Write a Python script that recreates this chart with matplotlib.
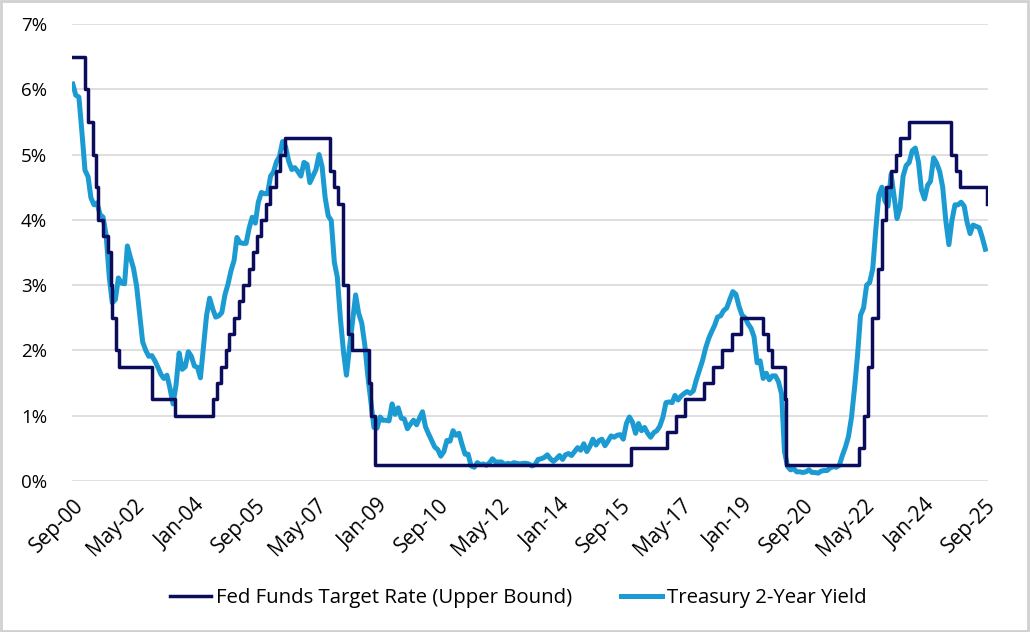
# Fed Funds target rate vs. 2-year Treasury yield, Sep 2000 - Sep 2025

import numpy as np
import pandas as pd
import matplotlib
matplotlib.use("Agg")
import matplotlib.pyplot as plt
import matplotlib.dates as mdates
from matplotlib.ticker import FuncFormatter, MultipleLocator

plt.rcParams['font.family'] = ['Open Sans', 'DejaVu Sans']

# -----------------------------------------
# Data
# -----------------------------------------
# Fed Funds target rate (upper bound), change dates and new levels (%)
ff_dates = [
    "2000-09-01", "2001-01-03", "2001-01-31", "2001-03-20", "2001-04-18", "2001-05-15",
    "2001-06-27", "2001-08-21", "2001-09-17", "2001-10-02", "2001-11-06", "2001-12-11",
    "2002-11-06", "2003-06-25", "2004-06-30", "2004-08-10", "2004-09-21", "2004-11-10",
    "2004-12-14", "2005-02-02", "2005-03-22", "2005-05-03", "2005-06-30", "2005-08-09",
    "2005-09-20", "2005-11-01", "2005-12-13", "2006-01-31", "2006-03-28", "2006-05-10",
    "2006-06-29", "2007-09-18", "2007-10-31", "2007-12-11", "2008-01-22", "2008-01-30",
    "2008-03-18", "2008-04-30", "2008-10-08", "2008-10-29", "2008-12-16", "2015-12-16",
    "2016-12-14", "2017-03-15", "2017-06-14", "2017-12-13", "2018-03-21", "2018-06-13",
    "2018-09-26", "2018-12-19", "2019-07-31", "2019-09-18", "2019-10-30", "2020-03-03",
    "2020-03-15", "2022-03-16", "2022-05-04", "2022-06-15", "2022-07-27", "2022-09-21",
    "2022-11-02", "2022-12-14", "2023-02-01", "2023-03-22", "2023-05-03", "2023-07-26",
    "2024-09-18", "2024-11-07", "2024-12-18", "2025-09-17", "2025-09-22",
]
ff_rates = [
    6.50, 6.00, 5.50, 5.00, 4.50, 4.00,
    3.75, 3.50, 3.00, 2.50, 2.00, 1.75,
    1.25, 1.00, 1.25, 1.50, 1.75, 2.00,
    2.25, 2.50, 2.75, 3.00, 3.25, 3.50,
    3.75, 4.00, 4.25, 4.50, 4.75, 5.00,
    5.25, 4.75, 4.50, 4.25, 3.50, 3.00,
    2.25, 2.00, 1.50, 1.00, 0.25, 0.50,
    0.75, 1.00, 1.25, 1.50, 1.75, 2.00,
    2.25, 2.50, 2.25, 2.00, 1.75, 1.25,
    0.25, 0.50, 1.00, 1.75, 2.50, 3.25,
    4.00, 4.50, 4.75, 5.00, 5.25, 5.50,
    5.00, 4.75, 4.50, 4.25, 4.25,
]

# Treasury 2-year yield, monthly (%), Sep 2000 onwards
t2_start = "2000-09-01"
t2_yield = [
    6.08, 5.91, 5.88, 5.35,                                                        # 2000
    4.76, 4.66, 4.34, 4.23, 4.26, 4.08, 4.04, 3.76, 3.12, 2.73, 2.78, 3.11,        # 2001
    3.03, 3.02, 3.60, 3.42, 3.26, 2.99, 2.56, 2.13, 2.00, 1.91, 1.92, 1.84,        # 2002
    1.74, 1.63, 1.57, 1.62, 1.42, 1.18, 1.47, 1.96, 1.71, 1.75, 1.98, 1.91,        # 2003
    1.76, 1.74, 1.58, 2.07, 2.53, 2.80, 2.64, 2.51, 2.53, 2.58, 2.85, 3.01,        # 2004
    3.22, 3.38, 3.73, 3.65, 3.64, 3.64, 3.87, 4.04, 3.95, 4.27, 4.42, 4.40,        # 2005
    4.40, 4.67, 4.73, 4.89, 4.97, 5.20, 5.12, 4.90, 4.77, 4.80, 4.74, 4.67,        # 2006
    4.88, 4.85, 4.57, 4.67, 4.77, 5.00, 4.82, 4.34, 4.06, 3.99, 3.35, 3.12,        # 2007
    2.48, 1.97, 1.62, 2.05, 2.45, 2.85, 2.57, 2.42, 2.08, 1.61, 1.21, 0.82,        # 2008
    0.81, 0.98, 0.93, 0.93, 0.92, 1.18, 1.02, 1.12, 0.96, 0.95, 0.80, 0.87,        # 2009
    0.93, 0.86, 0.96, 1.06, 0.83, 0.72, 0.62, 0.52, 0.48, 0.38, 0.45, 0.62,        # 2010
    0.61, 0.77, 0.70, 0.73, 0.56, 0.41, 0.41, 0.23, 0.21, 0.28, 0.25, 0.26,        # 2011
    0.24, 0.28, 0.34, 0.29, 0.29, 0.29, 0.25, 0.27, 0.26, 0.28, 0.27, 0.26,        # 2012
    0.27, 0.27, 0.26, 0.23, 0.25, 0.33, 0.34, 0.36, 0.40, 0.34, 0.30, 0.34,        # 2013
    0.39, 0.33, 0.40, 0.42, 0.39, 0.45, 0.51, 0.47, 0.57, 0.45, 0.53, 0.64,        # 2014
    0.55, 0.62, 0.64, 0.54, 0.61, 0.69, 0.67, 0.70, 0.71, 0.64, 0.88, 0.98,        # 2015
    0.90, 0.73, 0.88, 0.77, 0.82, 0.73, 0.67, 0.74, 0.77, 0.84, 0.98, 1.20,        # 2016
    1.21, 1.20, 1.31, 1.24, 1.30, 1.34, 1.37, 1.34, 1.38, 1.55, 1.70, 1.84,        # 2017
    2.03, 2.18, 2.28, 2.38, 2.51, 2.53, 2.61, 2.65, 2.78, 2.90, 2.86, 2.68,        # 2018
    2.54, 2.50, 2.41, 2.34, 2.21, 1.81, 1.84, 1.57, 1.65, 1.55, 1.61, 1.61,        # 2019
    1.52, 1.33, 0.45, 0.22, 0.17, 0.19, 0.14, 0.14, 0.13, 0.14, 0.17, 0.13,        # 2020
    0.13, 0.12, 0.15, 0.16, 0.16, 0.20, 0.22, 0.21, 0.24, 0.39, 0.52, 0.68,        # 2021
    0.98, 1.44, 1.91, 2.54, 2.65, 3.00, 3.04, 3.25, 3.86, 4.38, 4.50, 4.29,        # 2022
    4.21, 4.70, 4.38, 4.02, 4.18, 4.67, 4.83, 4.88, 5.06, 5.10, 4.89, 4.46,        # 2023
    4.32, 4.53, 4.59, 4.95, 4.87, 4.74, 4.50, 3.99, 3.62, 3.99, 4.23, 4.23,        # 2024
    4.27, 4.21, 3.97, 3.79, 3.92, 3.90, 3.88, 3.73, 3.55,                          # 2025
]

ff = pd.Series(ff_rates, index=pd.to_datetime(ff_dates))
t2 = pd.Series(t2_yield, index=pd.date_range(t2_start, periods=len(t2_yield), freq="MS"))

# x tick labels every 20 months
tick_dates = pd.date_range("2000-09-01", "2025-09-01", freq="20MS")

# -----------------------------------------
# Plot
# -----------------------------------------
fig = plt.figure(figsize=(10.30, 6.32), dpi=100)
ax = fig.add_axes([0.070, 0.239, 0.889, 0.723])

ax.plot(ff.index, ff.values, drawstyle="steps-post", color="#0b0c5c", lw=2.5,
        label="Fed Funds Target Rate (Upper Bound)", zorder=3)
ax.plot(t2.index, t2.values, color="#1b9bd1", lw=3.6,
        label="Treasury 2-Year Yield", zorder=2)

ax.set_ylim(0, 7)
ax.yaxis.set_major_locator(MultipleLocator(1))
ax.yaxis.set_major_formatter(FuncFormatter(lambda v, p: f"{v:.0f}%"))
ax.grid(axis="y", color="#d9d9d9", lw=1.2)
ax.set_axisbelow(True)

ax.set_xlim(pd.Timestamp("2000-08-25"), pd.Timestamp("2025-09-25"))
ax.set_xticks(tick_dates)
ax.xaxis.set_major_formatter(mdates.DateFormatter("%b-%y"))
for lbl in ax.get_xticklabels():
    lbl.set_rotation(45)
    lbl.set_ha("right")
    lbl.set_rotation_mode("anchor")

ax.tick_params(axis="both", length=0, colors="#000000")
ax.tick_params(axis="x", pad=10, labelsize=15)
ax.tick_params(axis="y", pad=18, labelsize=13.5)
for s in ax.spines.values():
    s.set_visible(False)

fig.legend(loc="center", bbox_to_anchor=(0.503, 0.054), ncol=2, frameon=False,
           fontsize=14.7, handlelength=2.0, handletextpad=0.25, columnspacing=2.4)

# grey border round the chart
fig.patches.append(plt.Rectangle((0.001, 0.002), 0.997, 0.996, transform=fig.transFigure,
                                 fill=False, edgecolor="#d0d0d0", lw=2))

fig.savefig("out.png", dpi=100)
